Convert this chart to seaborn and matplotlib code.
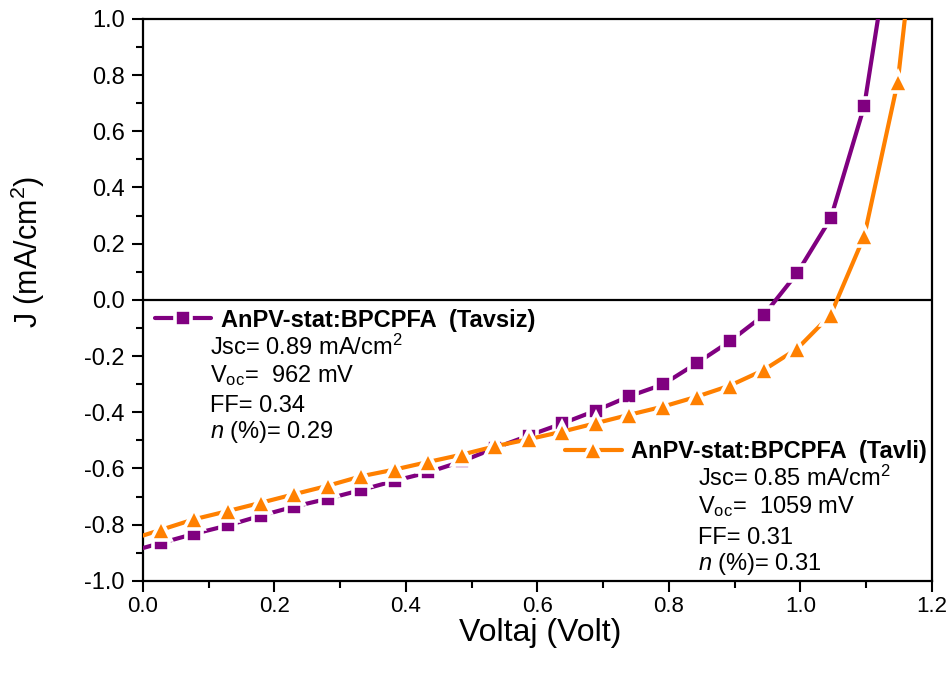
import matplotlib
matplotlib.use("Agg")
import matplotlib.pyplot as plt
import pandas as pd
import seaborn as sns
from matplotlib.lines import Line2D
from matplotlib.ticker import MultipleLocator, FormatStrFormatter

# ---- data ----
voltage = [-0.024, 0.027, 0.078, 0.129, 0.180, 0.230, 0.281, 0.332, 0.383,
           0.434, 0.485, 0.536, 0.587, 0.638, 0.689, 0.740, 0.791, 0.842,
           0.893, 0.944, 0.995, 1.046, 1.097, 1.148, 1.198]
j_tavsiz = [-0.899, -0.866, -0.833, -0.803, -0.768, -0.736, -0.708, -0.677,
            -0.644, -0.614, -0.575, -0.527, -0.483, -0.440, -0.394, -0.343,
            -0.301, -0.226, -0.147, -0.055, 0.095, 0.290, 0.690, 1.450]
j_tavli = [-0.857, -0.819, -0.781, -0.752, -0.722, -0.692, -0.662, -0.628,
           -0.604, -0.577, -0.551, -0.521, -0.496, -0.469, -0.439, -0.409,
           -0.380, -0.345, -0.305, -0.250, -0.174, -0.053, 0.227, 0.777, 1.820]

label_tavsiz = "AnPV-stat:BPCPFA  (Tavsiz)"
label_tavli = "AnPV-stat:BPCPFA  (Tavli)"
info_tavsiz = ["Jsc= 0.89 mA/cm$^2$", "V$_\\mathrm{oc}$=  962 mV", "FF= 0.34",
               "$\\mathit{n}$ (%)= 0.29"]
info_tavli = ["Jsc= 0.85 mA/cm$^2$", "V$_\\mathrm{oc}$=  1059 mV", "FF= 0.31",
              "$\\mathit{n}$ (%)= 0.31"]

x_ticks = [0.0, 0.2, 0.4, 0.6, 0.8, 1.0, 1.2]
y_ticks = [-1.0, -0.8, -0.6, -0.4, -0.2, 0.0, 0.2, 0.4, 0.6, 0.8, 1.0]

purple = "#800080"
orange = "#FF8000"

# ---- style ----
sns.set_style("white")
plt.rcParams["font.family"] = ["Liberation Sans", "DejaVu Sans"]
plt.rcParams["mathtext.fontset"] = "custom"
plt.rcParams["mathtext.rm"] = "Liberation Sans"
plt.rcParams["mathtext.it"] = "Liberation Sans:italic"
plt.rcParams["mathtext.bf"] = "Liberation Sans:bold"
plt.rcParams["axes.unicode_minus"] = False
for key in ["text.color", "axes.labelcolor", "xtick.color", "ytick.color",
            "xtick.labelcolor", "ytick.labelcolor"]:
    plt.rcParams[key] = "black"

fig = plt.figure(figsize=(9.52, 6.73), dpi=100)
ax = fig.add_axes([0.150, 0.137, 0.829, 0.835])

df1 = pd.DataFrame({"V": voltage[:len(j_tavsiz)], "J": j_tavsiz})
df2 = pd.DataFrame({"V": voltage[:len(j_tavli)], "J": j_tavli})

mk = dict(markeredgecolor="white", markeredgewidth=2.6)
sns.lineplot(data=df1, x="V", y="J", ax=ax, color=purple, lw=3, marker="s",
             markersize=11, sort=False, estimator=None, zorder=3, **mk)
sns.lineplot(data=df2, x="V", y="J", ax=ax, color=orange, lw=3, marker="^",
             markersize=14, sort=False, estimator=None, zorder=4, **mk)

ax.axhline(0, color="black", lw=1.6, zorder=2)

ax.set_xlim(0, 1.2)
ax.set_ylim(-1.0, 1.0)
ax.set_xticks(x_ticks)
ax.set_yticks(y_ticks)
ax.xaxis.set_minor_locator(MultipleLocator(0.1))
ax.yaxis.set_minor_locator(MultipleLocator(0.1))
ax.xaxis.set_major_formatter(FormatStrFormatter("%.1f"))
ax.yaxis.set_major_formatter(FormatStrFormatter("%.1f"))
ax.tick_params(which="both", direction="out", top=False, right=False,
               bottom=True, left=True, width=1.5, color="black",
               labelcolor="black")
ax.tick_params(which="major", length=8)
ax.tick_params(axis="x", which="major", pad=3, labelsize=16)
ax.tick_params(axis="y", which="major", pad=5, labelsize=17)
ax.tick_params(which="minor", length=5)
for s in ax.spines.values():
    s.set_color("black")
    s.set_linewidth(1.6)

ax.set_xlabel("Voltaj (Volt)", fontsize=23, color="black")
ax.set_ylabel("J (mA/cm$^2$)", fontsize=22, color="black")
ax.xaxis.set_label_coords(0.503, -0.067)
ax.yaxis.set_label_coords(-0.122, 0.585)

# ---- legends ----
h1 = Line2D([], [], color=purple, lw=3, marker="s", markersize=11, **mk)
h2 = Line2D([], [], color=orange, lw=3, marker="^", markersize=14, **mk)
leg_kw = dict(frameon=False, loc="center left", borderpad=0, borderaxespad=0,
              handlelength=2.4, handletextpad=0.4, numpoints=1,
              prop={"weight": "bold", "size": 17}, labelcolor="black")
leg1 = ax.legend([h1], [label_tavsiz], bbox_to_anchor=(0.0152, 0.464), **leg_kw)
ax.add_artist(leg1)
ax.legend([h2], [label_tavli], bbox_to_anchor=(0.535, 0.2295), **leg_kw)

# ---- info texts ----
def yfrac(py):
    return (581 - py) / 562.0

for txt, py in zip(info_tavsiz, [355, 382, 412, 438]):
    ax.text(0.0849, yfrac(py), txt, transform=ax.transAxes, fontsize=17,
            ha="left", va="baseline", color="black")
for txt, py in zip(info_tavli, [486, 513, 544, 570]):
    ax.text((698.5 - 143) / 789.0, yfrac(py), txt, transform=ax.transAxes,
            fontsize=17, ha="left", va="baseline", color="black")

fig.savefig("out.png", dpi=100)
